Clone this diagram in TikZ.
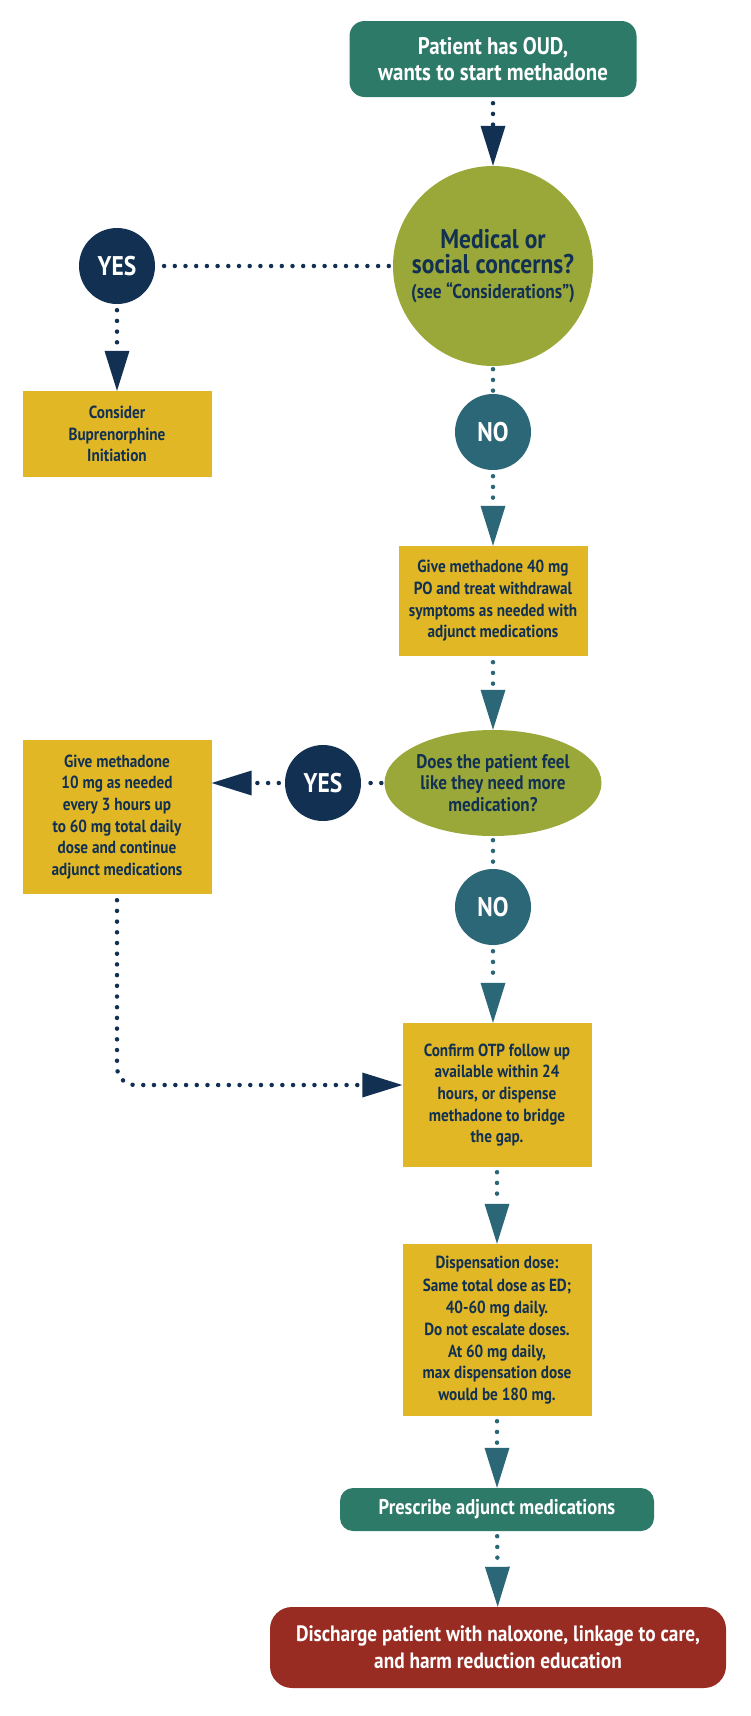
\documentclass[tikz,border=0pt]{standalone}
\usepackage{fontspec}
\setmainfont{PT Sans}[FakeStretch=0.87]
\usetikzlibrary{arrows.meta,shapes.geometric}
\definecolor{cNavy}{HTML}{123152}
\definecolor{cTeal}{HTML}{2C6777}
\definecolor{cOlive}{HTML}{9AA83A}
\definecolor{cGold}{HTML}{E1B725}
\definecolor{cGreen}{HTML}{2E7A69}
\definecolor{cRed}{HTML}{982B22}
\begin{document}
\begin{tikzpicture}[x=1pt,y=-1pt,
  every node/.style={align=center, inner sep=0pt, font=\bfseries},
  gbox/.style={fill=cGold, text=cNavy, minimum width=189pt, font=\bfseries\fontsize{17.5}{21.7}\selectfont},
  rbox/.style={rounded corners=15pt, fill=cGreen, text=white},
  yesc/.style={circle, fill=cNavy, text=white, minimum size=76pt, font=\bfseries\fontsize{27}{27}\selectfont},
  noc/.style={circle, fill=cTeal, text=white, minimum size=76pt, font=\bfseries\fontsize{27}{27}\selectfont},
  dotn/.style={draw=cNavy, line width=4.5pt, line cap=round, dash pattern=on 0pt off 10.7pt},
  dott/.style={draw=cTeal, line width=4.5pt, line cap=round, dash pattern=on 0pt off 10.7pt},
  tipn/.style={-{Triangle[width=25pt,length=40pt,line width=0pt,fill=cNavy]}},
  tipt/.style={-{Triangle[width=25pt,length=40pt,line width=0pt,fill=cTeal]}},
]
\fill[white] (0,0) rectangle (750,1716);
\useasboundingbox (0,0) rectangle (750,1716);

% nodes
\node[rbox, minimum width=287pt, minimum height=76pt, font=\bfseries\fontsize{24}{26}\selectfont] (top) at (493,59) {Patient has OUD,\\wants to start methadone};
\node[circle, fill=cOlive, text=cNavy, minimum size=200pt, font=\bfseries\fontsize{27}{25}\selectfont] (c1) at (493,266)
  {Medical or\\social concerns?\\{\fontsize{20}{25}\selectfont (see “Considerations”)}};
\node[yesc] (yes1) at (117,266) {YES};
\node[gbox, minimum height=86pt] (cons) at (117,434) {Consider\\Buprenorphine\\Initiation};
\node[noc] (no1) at (493,432) {NO};
\node[gbox, minimum height=110pt] (b2) at (493,601) {Give methadone 40 mg\\PO and treat withdrawal\\symptoms as needed with\\adjunct medications};
\node[ellipse, fill=cOlive, text=cNavy, minimum width=211pt, minimum height=106pt, font=\bfseries\fontsize{19.7}{21.7}\selectfont] (e2) at (493,783) {Does the patient feel\\like they need more\\medication?};
\node[yesc] (yes2) at (323,783) {YES};
\node[gbox, minimum height=154pt] (b3) at (117,817) {Give methadone\\10 mg as needed\\every 3 hours up\\to 60 mg total daily\\dose and continue\\adjunct medications};
\node[noc] (no2) at (493,907) {NO};
\node[gbox, minimum height=144pt] (b4) at (497,1095) {Confirm OTP follow up\\available within 24\\hours, or dispense\\methadone to bridge\\the gap.};
\node[gbox, minimum height=172pt] (b5) at (497,1330) {Dispensation dose:\\[2pt]Same total dose as ED;\\40-60 mg daily.\\Do not escalate doses.\\At 60 mg daily,\\max dispensation dose\\would be 180 mg.};
\node[rbox, rounded corners=13pt, minimum width=314pt, minimum height=43pt, font=\bfseries\fontsize{21.3}{24}\selectfont] (b6) at (497,1509.5) {Prescribe adjunct medications};
\node[rbox, rounded corners=22pt, fill=cRed, minimum width=456pt, minimum height=81pt, font=\bfseries\fontsize{22.2}{27}\selectfont] (b7) at (498,1647.5) {Discharge patient with naloxone, linkage to care,\\and harm reduction education};

% connectors
\draw[dotn, tipn, shorten <=6pt] (top) -- (c1);
\draw[dotn, shorten <=4pt, shorten >=4pt] (c1) -- (yes1);
\draw[dotn, tipn, shorten <=6pt] (yes1) -- (cons);
\draw[dott, shorten <=3pt, shorten >=3pt] (c1) -- (no1);
\draw[dott, tipt, shorten <=6pt] (no1) -- (b2);
\draw[dott, tipt, shorten <=6pt] (b2) -- (e2);
\draw[dott, shorten <=4pt, shorten >=4pt] (e2) -- (no2);
\draw[dotn, shorten <=3pt, shorten >=3pt] (e2) -- (yes2);
\draw[dotn, tipn, shorten <=6pt] (yes2) -- (yes2 -| b3.east);
\draw[dott, tipt, shorten <=6pt] (no2) -- (no2 |- b4.north);
\draw[dotn, tipn, rounded corners=18pt, shorten <=6pt] (b3.south) |- ([yshift=10pt]b4.west);
\draw[dott, tipt, shorten <=5pt] (b4) -- (b5);
\draw[dott, tipt, shorten <=5pt] (b5) -- (b6);
\draw[dott, tipt, shorten <=5pt] (b6) -- (b7);
\end{tikzpicture}
\end{document}
